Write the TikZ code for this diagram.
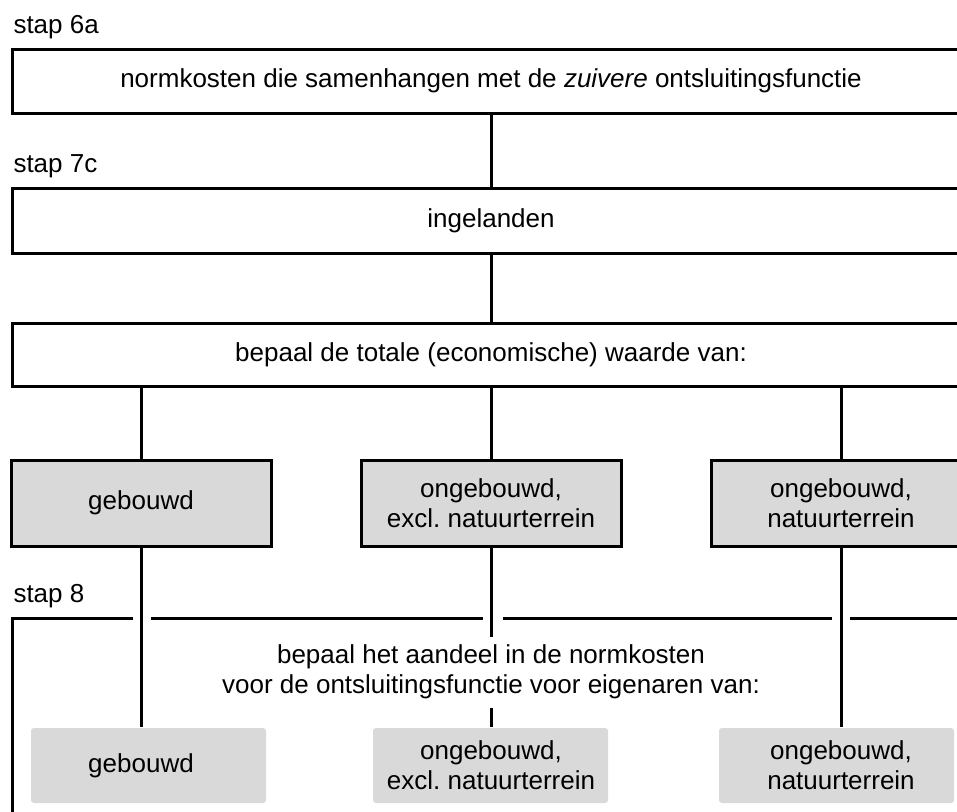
\documentclass[tikz,border=0pt]{standalone}
\usepackage{fontspec}
\setmainfont{Liberation Sans}
\definecolor{boxgray}{HTML}{D9D9D9}
\frenchspacing
\begin{document}
\begin{tikzpicture}[x=1pt,y=-1pt, line width=3pt,
  every node/.style={font=\fontsize{26}{30}\selectfont, inner sep=0pt, align=center},
  whitebox/.style={draw, fill=white, minimum width=958pt},
  graybox/.style={draw, fill=boxgray, minimum width=260pt, minimum height=86pt},
  softbox/.style={fill=boxgray, rounded corners=3pt, minimum width=235pt, minimum height=75pt},
  steplabel/.style={anchor=base west},
  link/.style={draw, line width=3pt}]
\clip (0,0) rectangle (957,811);
% step labels
\node[steplabel] (s6a) at (12,33) {stap 6a};
\node[steplabel] (s7c) at (12,172) {stap 7c};
\node[steplabel] (s8) at (12,602) {stap 8};
% white boxes
\node[whitebox, minimum height=64pt] (b1) at (491,81) {normkosten die samenhangen met de \emph{zuivere} ontsluitingsfunctie};
\node[whitebox, minimum height=65pt] (b2) at (491,220.5) {ingelanden};
\node[whitebox, minimum height=63pt] (b3) at (491,354.5) {bepaal de totale (economische) waarde van:};
% gray boxes
\node[graybox] (g1) at (141,503) {gebouwd};
\node[graybox] (g2) at (491,503) {ongebouwd,\\excl.\ natuurterrein};
\node[graybox] (g3) at (841,503) {ongebouwd,\\natuurterrein};
% stap 8 frame
\draw (12,830) -- (12,618) -- (133,618);
\draw (151,618) -- (483,618);
\draw (503,618) -- (832,618);
\draw (850,618) -- (975,618);
\node[minimum height=68pt] (t8) at (491,672) {bepaal het aandeel in de normkosten\\voor de ontsluitingsfunctie voor eigenaren van:};
% bottom soft boxes
\node[softbox] (h1) at (148.5,765.5) {};
\node (h1t) at (141,765.5) {gebouwd};
\node[softbox] (h2) at (490.5,765.5) {};
\node (h2t) at (491,765.5) {ongebouwd,\\excl.\ natuurterrein};
\node[softbox] (h3) at (836.5,765.5) {};
\node (h3t) at (841,765.5) {ongebouwd,\\natuurterrein};
% connectors
\path[link] (b1.south) -- (b2.north);
\path[link] (b2.south) -- (b3.north);
\path[link] (b3.south -| g1.north) -- (g1.north);
\path[link] (b3.south -| g2.north) -- (g2.north);
\path[link] (b3.south -| g3.north) -- (g3.north);
\path[link] (g1.south) -- (g1.south |- h1.north);
\path[link] (g2.south) -- (t8.north);
\path[link] (t8.south) -- (t8.south |- h2.north);
\path[link] (g3.south) -- (g3.south |- h3.north);
\end{tikzpicture}
\end{document}
